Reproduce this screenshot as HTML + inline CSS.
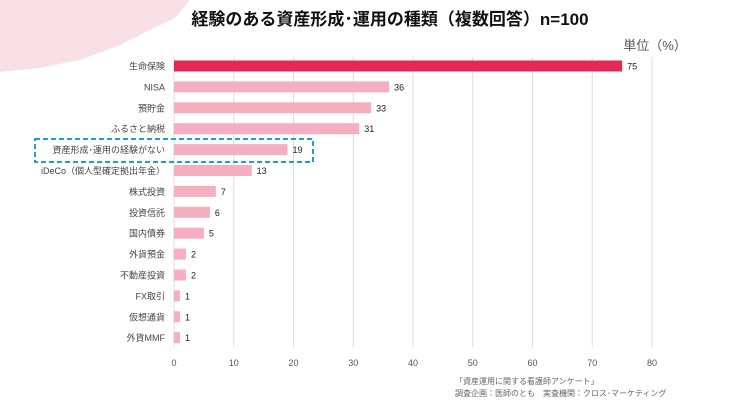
<!DOCTYPE html>
<html><head><meta charset="utf-8"><style>
body{margin:0;background:#fff;}
svg{display:block;font-family:"Liberation Sans","Noto Sans CJK JP",sans-serif;}
</style></head><body>
<svg id="c" width="739" height="406">
<polygon points="0,0 190,0 175,18 150,30 120,45 80,60 40,68 0,72" fill="#f7e1e6"/>
<text x="390" y="25" text-anchor="middle" font-size="17" font-weight="bold" fill="#111">経験のある資産形成･運用の種類（複数回答）n=100</text>
<text x="655" y="50" text-anchor="middle" font-size="13" fill="#555">単位（%）</text>
<g id="grid"></g><g id="bars"></g>
<rect x="35" y="139" width="278" height="23" fill="none" stroke="#1ea0d0" stroke-width="2" stroke-dasharray="5,3"/>
<text x="455" y="384" font-size="8" fill="#666">「資産運用に関する看護師アンケート」</text>
<text x="455" y="396" font-size="8" fill="#666">調査企画：医師のとも　実査機関：クロス･マーケティング</text>
</svg>
<script>
const categories=["生命保険","NISA","預貯金","ふるさと納税","資産形成･運用の経験がない","iDeCo（個人型確定拠出年金）","株式投資","投資信託","国内債券","外貨預金","不動産投資","FX取引","仮想通貨","外貨MMF"];
const values=[75,36,33,31,19,13,7,6,5,2,2,1,1,1];
const ticks=[0,10,20,30,40,50,60,70,80];
const NS="http://www.w3.org/2000/svg";
const x0=174,pxu=5.975,y0=66,step=20.9,bh=11;
const xs=v=>x0+v*pxu;
const ys=i=>y0+i*step;
const g=document.getElementById('grid'),b=document.getElementById('bars');
function mk(tag,attrs,parent,txt){const e=document.createElementNS(NS,tag);for(const k in attrs)e.setAttribute(k,attrs[k]);if(txt!==undefined)e.textContent=txt;parent.appendChild(e);return e;}
ticks.forEach(t=>{
 const l=mk('line',{x1:xs(t),x2:xs(t),y1:57,y2:347,stroke:'#ddd','stroke-width':1},g);
 
 
 const tx=mk('text',{x:xs(t),y:366,'text-anchor':'middle','font-size':9,fill:'#555'},g,t);
 
 
});
categories.forEach((c,i)=>{
 const y=ys(i);
 const r=mk('rect',{x:x0,y:y-bh/2,width:values[i]*pxu,height:bh,fill:i===0?'#e32a55':'#f5afc0'},b);
 
 
 const lb=mk('text',{x:165,y:y+3.5,'text-anchor':'end','font-size':9,fill:'#444'},b,c);
 
 
 const vl=mk('text',{x:xs(values[i])+5,y:y+3.5,'font-size':9,fill:'#222'},b,values[i]);
 
 
});
</script>
</body></html>
